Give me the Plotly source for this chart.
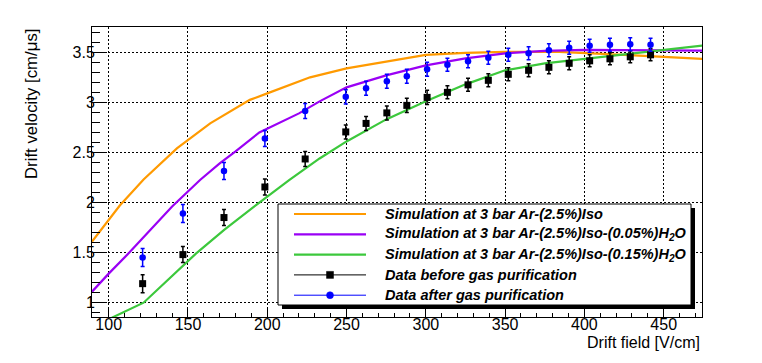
import plotly.graph_objects as go

## Data -----------------------------------------------------------------------------------

# measured drift velocity [cm/us] vs drift field [V/cm]
field_data = [121.4, 146.8, 172.7, 198.5, 223.9, 249.5, 262.3, 275.4, 288.0, 300.8,
              313.6, 326.6, 339.4, 352.0, 364.8, 377.6, 390.4, 403.3, 416.1, 428.9, 441.7]
v_before = [1.19, 1.48, 1.85, 2.155, 2.435, 2.705, 2.79, 2.895, 2.97, 3.05,
            3.10, 3.175, 3.22, 3.28, 3.32, 3.35, 3.39, 3.415, 3.435, 3.455, 3.475]
err_before = [0.09, 0.08, 0.08, 0.08, 0.075, 0.07, 0.07, 0.07, 0.07, 0.07,
              0.065, 0.065, 0.065, 0.065, 0.065, 0.065, 0.065, 0.06, 0.06, 0.06, 0.06]
v_after = [1.45, 1.89, 2.315, 2.64, 2.915, 3.055, 3.14, 3.21, 3.26, 3.33,
           3.375, 3.41, 3.445, 3.475, 3.49, 3.52, 3.545, 3.565, 3.575, 3.58, 3.575]
err_after = [0.09, 0.09, 0.085, 0.08, 0.075, 0.07, 0.07, 0.07, 0.07, 0.07,
             0.065, 0.065, 0.065, 0.065, 0.065, 0.065, 0.065, 0.065, 0.065, 0.065, 0.065]

# Garfield simulations
field_iso = [89.5, 100, 107, 122, 143, 164, 189, 200, 227, 250, 275, 300, 325, 350, 384, 400, 425, 450, 474.2]
v_iso = [1.61, 1.83, 1.97, 2.23, 2.54, 2.79, 3.025, 3.09, 3.25, 3.34, 3.41, 3.475, 3.495, 3.505, 3.505,
         3.495, 3.475, 3.455, 3.435]

field_h2o_005 = [89.5, 100, 113, 125, 140, 157.6, 170, 180, 195, 220, 233, 250, 275, 300, 325, 350, 375,
                 400, 425, 450, 474.2]
v_h2o_005 = [1.11, 1.29, 1.50, 1.70, 1.96, 2.225, 2.39, 2.51, 2.70, 2.89, 3.01, 3.15, 3.27, 3.37, 3.44,
             3.49, 3.515, 3.525, 3.525, 3.52, 3.517]

field_h2o_015 = [102, 122, 155, 173, 195, 214, 233, 250, 275, 300, 325, 350, 375, 400, 425, 450, 474.2]
v_h2o_015 = [0.85, 1.00, 1.49, 1.73, 2.00, 2.225, 2.44, 2.61, 2.83, 3.01, 3.18, 3.32, 3.39, 3.435, 3.48,
             3.525, 3.567]

ORANGE = "#ff9a00"
PURPLE = "#9a00f5"
GREEN = "#3cc83c"

## Figure ---------------------------------------------------------------------------------

# the page puts the plot div 8px in from the top-left corner, so the figure is
# made a bit smaller and the frame is placed in page pixels
OFF = 8
W, H = 762 - 2 * OFF, 363 - 2 * OFF
FX0, FX1, FY0, FY1 = 92, 702, 27, 317          # plot frame in page pixels
ML, MT = FX0 - OFF, FY0 - OFF
MR, MB = OFF + W - FX1, OFF + H - FY1
PW, PH = FX1 - FX0, FY1 - FY0
FONT = "Liberation Sans, Arial, Helvetica, sans-serif"


def px(x):
    return (x - FX0) / PW


def py(y):
    return (FY1 - y) / PH


fig = go.Figure()

for xs, ys, col in [(field_iso, v_iso, ORANGE),
                    (field_h2o_005, v_h2o_005, PURPLE),
                    (field_h2o_015, v_h2o_015, GREEN)]:
    fig.add_trace(go.Scatter(x=xs, y=ys, mode="lines", line=dict(color=col, width=2.2),
                             showlegend=False))

fig.add_trace(go.Scatter(x=field_data, y=v_before, mode="markers",
                         marker=dict(symbol="square", size=7, color="black"),
                         error_y=dict(type="data", array=err_before, color="black", thickness=1.5, width=2),
                         showlegend=False))
fig.add_trace(go.Scatter(x=field_data, y=v_after, mode="markers",
                         marker=dict(symbol="circle", size=6.5, color="blue"),
                         error_y=dict(type="data", array=err_after, color="blue", thickness=1.5, width=2),
                         showlegend=False))

## Legend drawn by hand (ROOT style box with shadow) --------------------------------------

legend_rows = [
    ("Simulation at 3 bar Ar-(2.5%)Iso", ORANGE, None),
    ("Simulation at 3 bar Ar-(2.5%)Iso-(0.05%)H<sub>2</sub>O", PURPLE, None),
    ("Simulation at 3 bar Ar-(2.5%)Iso-(0.15%)H<sub>2</sub>O", GREEN, None),
    ("Data before gas purification", "black", "rect"),
    ("Data after gas purification", "blue", "circle"),
]

bx0, bx1, by0, by1 = 278, 691, 204, 305
fig.add_shape(type="rect", xref="paper", yref="paper", layer="above",
              x0=px(bx0 + 4), x1=px(bx1 + 4), y0=py(by0 + 4), y1=py(by1 + 4),
              fillcolor="black", line=dict(width=0))
fig.add_shape(type="rect", xref="paper", yref="paper", layer="above",
              x0=px(bx0), x1=px(bx1), y0=py(by0), y1=py(by1),
              fillcolor="white", line=dict(color="black", width=1))

for k, (name, col, sym) in enumerate(legend_rows):
    yy = 214 + k * 20.3
    fig.add_shape(type="line", xref="paper", yref="paper", layer="above",
                  x0=px(294), x1=px(366), y0=py(yy), y1=py(yy),
                  line=dict(color=col, width=2.2 if sym is None else 1))
    if sym is not None:
        r = 3.5
        fig.add_shape(type=sym, xref="paper", yref="paper", layer="above",
                      x0=px(330 - r), x1=px(330 + r), y0=py(yy - r), y1=py(yy + r),
                      fillcolor=col, line=dict(color=col, width=0.5))
    fig.add_annotation(text="<b><i>" + name + "</i></b>", xref="paper", yref="paper",
                       x=px(383), y=py(yy), xanchor="left", yanchor="middle", showarrow=False,
                       font=dict(family=FONT, size=14.5, color="black"))

## Axis titles ------------------------------------------------------------------------------

fig.add_annotation(text="Drift field [V/cm]", xref="paper", yref="paper", x=1.0, y=py(342),
                   xanchor="right", yanchor="middle", showarrow=False,
                   font=dict(family=FONT, size=16, color="black"))
fig.add_annotation(text="Drift velocity [cm/\u03bcs]", xref="paper", yref="paper", x=px(31), y=1.0,
                   xanchor="center", yanchor="top", textangle=-90, showarrow=False,
                   font=dict(family=FONT, size=16.8, color="black"))

axis_style = dict(showline=True, mirror=True, linecolor="black", linewidth=1,
                  showgrid=True, gridcolor="black", gridwidth=1, griddash="2px,2px",
                  zeroline=False, ticks="inside", tickcolor="black", tickwidth=1,
                  tickfont=dict(family=FONT, size=16, color="black"))

fig.update_xaxes(range=[89.47, 474.15], dtick=50, tick0=0, ticklen=8, ticklabelstandoff=-7,
                 minor=dict(dtick=10, ticks="inside", ticklen=4, tickcolor="black", showgrid=False),
                 **axis_style)
fig.update_yaxes(range=[0.857, 3.7526], dtick=0.5, tick0=0, ticklen=15, ticklabelstandoff=-7,
                 minor=dict(dtick=0.1, ticks="inside", ticklen=8, tickcolor="black", showgrid=False),
                 **axis_style)

fig.update_layout(width=W, height=H, margin=dict(l=ML, r=MR, t=MT, b=MB),
                  paper_bgcolor="white", plot_bgcolor="white", showlegend=False,
                  font=dict(family=FONT, color="black"))

fig.write_html("out.html")
